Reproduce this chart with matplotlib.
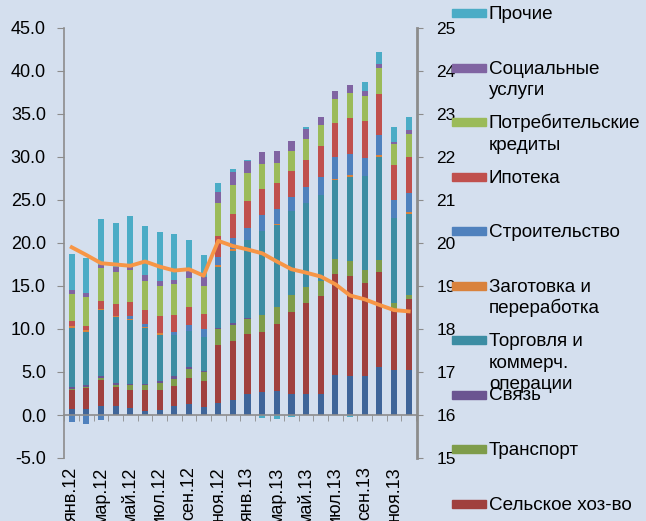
import numpy as np
import matplotlib.pyplot as plt
from matplotlib.patches import Rectangle

plt.rcParams['font.family'] = ['Liberation Sans', 'DejaVu Sans']
plt.rcParams['axes.unicode_minus'] = False

months = ['янв.12', 'фев.12', 'мар.12', 'апр.12', 'май.12', 'июн.12', 'июл.12', 'авг.12',
          'сен.12', 'окт.12', 'ноя.12', 'дек.12', 'янв.13', 'фев.13', 'мар.13', 'апр.13',
          'май.13', 'июн.13', 'июл.13', 'авг.13', 'сен.13', 'окт.13', 'ноя.13', 'дек.13']

# stacked from bottom to top
prom    = [0.75, 0.75, 1.1, 1.0, 0.85, 0.45, 0.6, 1.1, 1.25, 0.95, 1.45, 1.8, 2.5, 2.7, 2.8, 2.5, 2.5, 2.5, 4.65, 4.55, 4.55, 5.6, 5.25, 5.25]
selsk   = [2.15, 2.35, 3.0, 2.25, 2.1, 2.4, 2.3, 2.3, 3.1, 3.0, 6.7, 6.8, 6.9, 6.9, 7.8, 9.5, 10.5, 11.35, 11.75, 11.65, 10.75, 11.0, 6.85, 8.25]
transp  = [0.15, 0.2, 0.2, 0.25, 0.55, 0.65, 0.8, 0.8, 1.05, 1.0, 1.85, 1.85, 1.8, 2.0, 2.0, 1.9, 1.9, 1.75, 1.7, 1.7, 1.6, 1.4, 0.95, 0.45]
svyaz   = [0.2, 0.2, 0.2, 0.2, 0.15, 0.15, 0.25, 0.3, 0.15, 0.15, 0.15, 0.2, 0.1, 0.0, 0.0, 0.0, 0.0, 0.0, 0.0, 0.0, 0.0, 0.0, 0.0, 0.0]
torg    = [6.9, 6.15, 7.7, 7.65, 7.45, 6.45, 5.35, 4.75, 4.25, 3.95, 7.05, 8.45, 9.1, 9.85, 9.45, 9.85, 9.75, 10.0, 9.2, 9.8, 10.9, 12.0, 9.8, 9.45]
zagot   = [0.2, 0.2, 0.15, 0.2, 0.05, 0.15, 0.2, 0.0, 0.0, 0.0, 0.2, 0.2, 0.0, 0.0, 0.15, 0.0, 0.0, 0.0, 0.15, 0.2, 0.0, 0.2, 0.0, 0.2]
stroit  = [-0.8, -1.0, -0.6, 0.0, 0.35, 0.35, 0.0, 0.4, 0.7, 0.9, 0.95, 1.3, 1.4, 1.75, 1.8, 1.55, 1.85, 2.1, 2.5, 2.5, 2.05, 2.35, 2.15, 2.25]
ipoteka = [0.55, 0.55, 0.95, 1.4, 1.6, 1.6, 2.0, 1.95, 2.0, 1.85, 2.45, 2.8, 3.1, 3.1, 3.0, 3.1, 3.2, 3.6, 4.0, 4.15, 4.35, 4.75, 4.05, 4.1]
potreb  = [3.2, 3.3, 3.85, 3.7, 3.8, 3.4, 3.55, 3.6, 3.4, 3.25, 3.8, 3.3, 3.25, 2.85, 2.3, 2.3, 2.35, 2.4, 2.75, 2.85, 2.9, 3.1, 2.5, 2.7]
social  = [0.47, 0.5, 0.25, 0.55, 0.3, 0.7, 0.55, 0.5, 0.9, 1.05, 1.35, 1.5, 1.35, 1.4, 1.4, 1.15, 1.25, 1.0, 1.0, 1.0, 0.6, 0.4, 0.25, 0.45]
prochie = [4.13, 4.1, 5.35, 5.1, 5.9, 5.7, 5.7, 5.3, 3.5, 2.5, 1.05, 0.4, 0.2, -0.4, -0.5, -0.2, 0.2, 0.0, 0.0, -0.2, 1.0, 1.4, 1.7, 1.6]

# right axis line
line_vals = [19.9, 19.72, 19.53, 19.5, 19.47, 19.57, 19.45, 19.36, 19.39, 19.24, 20.05, 19.93,
             19.85, 19.76, 19.57, 19.39, 19.31, 19.22, 19.04, 18.78, 18.69, 18.56, 18.44, 18.41]

series = [
    ('Промышленность', prom, '#3F6599'),
    ('Сельское хоз-во', selsk, '#A0403E'),
    ('Транспорт', transp, '#7E9C4A'),
    ('Связь', svyaz, '#6B5491'),
    ('Торговля и\nкоммерч.\nоперации', torg, '#3C8DA3'),
    ('Заготовка и\nпереработка', zagot, '#D9823C'),
    ('Строительство', stroit, '#4F81BD'),
    ('Ипотека', ipoteka, '#C0504D'),
    ('Потребительские\nкредиты', potreb, '#9BBB59'),
    ('Социальные\nуслуги', social, '#8064A2'),
    ('Прочие', prochie, '#4BACC6'),
]

bg = '#D4DFEE'
grey = '#8C8C8C'

fig = plt.figure(figsize=(6.46, 5.21), dpi=100, facecolor=bg)
ax = fig.add_axes([64/646, 1 - 458/521, 353/646, 430/521])
ax.set_facecolor(bg)

x = np.arange(len(months))
pos_bottom = np.zeros(len(x))
neg_bottom = np.zeros(len(x))
for name, vals, col in series:
    v = np.array(vals, dtype=float)
    pos = np.where(v > 0, v, 0)
    neg = np.where(v < 0, v, 0)
    ax.bar(x, pos, 0.42, bottom=pos_bottom, color=col, linewidth=0)
    ax.bar(x, neg, 0.42, bottom=neg_bottom, color=col, linewidth=0)
    pos_bottom += pos
    neg_bottom += neg

ax.set_xlim(-0.53, 23.57)
ax.set_ylim(-5, 45)
ax.set_yticks(np.arange(-5, 46, 5))
ax.set_yticklabels(['%.1f' % t for t in np.arange(-5, 46, 5)], fontsize=13)

ax.spines['top'].set_visible(False)
ax.spines['right'].set_visible(False)
ax.spines['bottom'].set_position(('data', 0))
for s in ['left', 'bottom']:
    ax.spines[s].set_color(grey)
    ax.spines[s].set_linewidth(1.2)

ax.set_xticks(x[::2])
ax.set_xticklabels(months[::2], rotation=90, fontsize=13, va='top')
ax.set_xticks(np.arange(-0.5, 24, 1), minor=True)
ax.tick_params(axis='x', which='major', length=0, pad=37)
ax.tick_params(axis='x', which='minor', length=4, color=grey, direction='out')
ax.tick_params(axis='y', length=5, color=grey, pad=8)

ax2 = ax.twinx()
ax2.plot(x, line_vals, color='#F79646', linewidth=2.8, solid_joinstyle='round')
ax2.set_ylim(15, 25)
ax2.set_yticks(range(15, 26))
ax2.tick_params(axis='y', length=4, color=grey, labelsize=12.5, pad=10)
for s in ['top', 'left', 'bottom']:
    ax2.spines[s].set_visible(False)
ax2.spines['right'].set_color(grey)
ax2.spines['right'].set_linewidth(2)

# legend (legend continues below the visible area)
hx, hw, hh = 452, 34, 8
row0, step, line_h = 13, 54.5, 21.5
for i, (name, vals, col) in enumerate(series[::-1][:10]):
    yc = row0 + i * step
    fig.patches.append(Rectangle((hx/646, 1 - (yc + hh/2)/521), hw/646, hh/521,
                                 transform=fig.transFigure, color=col))
    for j, part in enumerate(name.split('\n')):
        fig.text(489/646, 1 - (yc + 6 + j*line_h)/521, part, fontsize=13.6,
                 va='baseline', ha='left')

fig.savefig('out.png', dpi=100, facecolor=bg)
